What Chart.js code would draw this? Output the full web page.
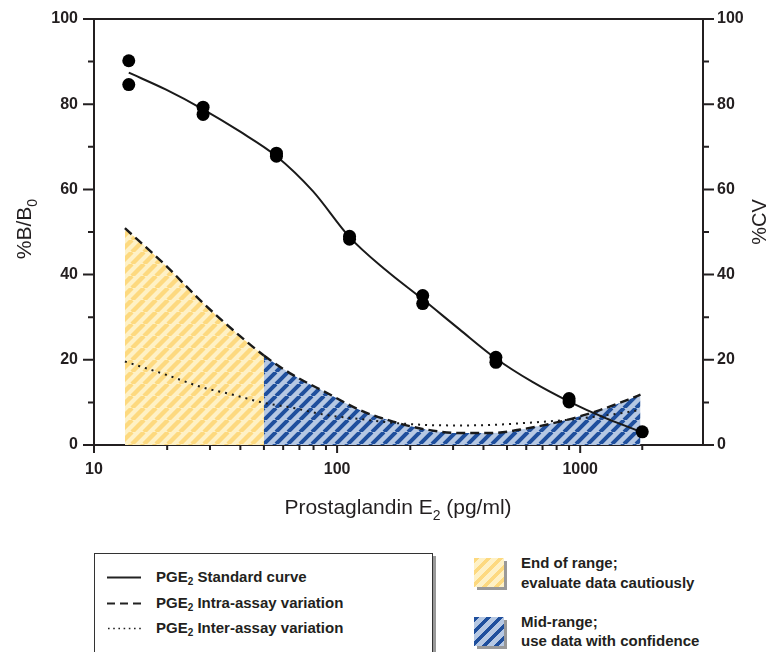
<!DOCTYPE html>
<html>
<head>
<meta charset="utf-8">
<script src="https://cdn.jsdelivr.net/npm/chart.js@4"></script>
<style>
  body { margin: 0; width: 775px; height: 652px; overflow: hidden; background: #fff; position: relative;
         font-family: "Liberation Sans", Arial, sans-serif; color: #231f20; }
  #chart { position: absolute; left: 0; top: 0; }
  .box { position: absolute; left: 94px; top: 553px; width: 337px; height: 130px;
         border: 1.5px solid #333; box-shadow: 3px 3px 0 #999; background: #fff; }
  .row { position: absolute; left: 0; height: 20px; font-weight: bold; font-size: 15px; line-height: 20px; white-space: nowrap; }
  .row svg { position: absolute; left: 12px; top: 9px; }
  .row span { position: absolute; left: 61px; top: 0; }
  sub { font-size: 10px; vertical-align: -3px; line-height: 0; }
  .sw { position: absolute; left: 474px; width: 30px; height: 29px; box-shadow: 3px 3px 0 #999; }
  .sw.end { top: 558px; background: repeating-linear-gradient(135deg, #fdd97f 0 4px, #fef1c6 4px 8.5px); }
  .sw.mid { top: 617px; background: repeating-linear-gradient(135deg, #1f4f9d 0 3.8px, #b6c8e3 3.8px 8.5px); }
  .txt { position: absolute; left: 521px; font-weight: bold; font-size: 15px; line-height: 20px; white-space: nowrap; }
</style>
</head>
<body>
<canvas id="chart" width="775" height="545"></canvas>

<div class="box">
  <div class="row" style="top:13px"><svg width="40" height="3"><line x1="0" y1="1.5" x2="34" y2="1.5" stroke="#222" stroke-width="2"/></svg><span>PGE<sub>2</sub> Standard curve</span></div>
  <div class="row" style="top:39px"><svg width="40" height="3"><line x1="0" y1="1.5" x2="34" y2="1.5" stroke="#222" stroke-width="2" stroke-dasharray="8 5"/></svg><span>PGE<sub>2</sub> Intra-assay variation</span></div>
  <div class="row" style="top:64px"><svg width="40" height="3"><line x1="1" y1="1.5" x2="34" y2="1.5" stroke="#222" stroke-width="1.6" stroke-dasharray="1.6 3.6"/></svg><span>PGE<sub>2</sub> Inter-assay variation</span></div>
</div>
<div class="sw end"></div>
<div class="txt" style="top:553px">End of range;</div>
<div class="txt" style="top:573px">evaluate data cautiously</div>
<div class="sw mid"></div>
<div class="txt" style="top:612px">Mid-range;</div>
<div class="txt" style="top:631px">use data with confidence</div>

<script>
// standards (pg/ml) and measured %B/B0, duplicates
const stdConc = [13.9, 13.9, 28.1, 28.1, 56.3, 56.3, 112.5, 112.5, 225, 225, 450, 450, 900, 900, 1800];
const stdBB0 = [90.2, 84.6, 79.3, 77.6, 68.5, 67.8, 49.0, 48.3, 35.1, 33.2, 20.6, 19.4, 10.9, 10.1, 3.1];

// fitted standard curve
const fitConc = [13.9, 19.8, 28.1, 39.8, 56.3, 79.5, 112.5, 159, 225, 318, 450, 636, 900, 1272, 1800];
const fitBB0 = [87.4, 83.4, 78.8, 73.6, 67.8, 59.6, 48.8, 41.0, 34.2, 27.2, 20.3, 14.8, 10.2, 6.3, 3.0];

// %CV curves
const cvConc = [13.4, 20, 27.3, 37.3, 50, 66, 91, 124, 170, 234, 320, 430, 604, 883, 1205, 1633, 1770];
const intraCV = [50.9, 41.8, 34, 27, 21, 16.4, 12.2, 8.2, 5.5, 3.6, 2.8, 2.8, 3.9, 5.9, 8.2, 11.0, 11.8];
const interCV = [19.6, 16.4, 13.7, 11.8, 9.9, 8.7, 7.0, 6.1, 5.2, 4.7, 4.6, 4.7, 5.2, 5.9, 6.8, 7.9, 8.3];

// end of range / mid-range split
const rangeSplit = 50;

// axis ticks
const xTickValues = [10, 20, 30, 40, 50, 60, 70, 80, 90, 100, 200, 300, 400, 500, 600, 700, 800, 900, 1000, 1800];
const xLabelValues = [10, 100, 1000];
const yTickValues = [0, 10, 20, 30, 40, 50, 60, 70, 80, 90, 100];

const FONT = '"Liberation Sans", Arial, sans-serif';
const INK = '#231f20';

function hatch(bg, stripe, size, w) {
  const c = document.createElement('canvas');
  c.width = size; c.height = size;
  const g = c.getContext('2d');
  g.fillStyle = bg;
  g.fillRect(0, 0, size, size);
  g.strokeStyle = stripe;
  g.lineWidth = w;
  g.beginPath();
  for (let k = -1; k <= 1; k++) {
    g.moveTo(k * size, size);
    g.lineTo(k * size + size, 0);
  }
  g.stroke();
  return g.createPattern(c, 'repeat');
}

const ctx = document.getElementById('chart').getContext('2d');
const yellowHatch = hatch('#fef1c6', '#fdd97f', 12, 4.4);
const blueHatch = hatch('#b6c8e3', '#1f4f9d', 12, 4.0);

const pts = (xs, ys) => xs.map((x, i) => ({ x, y: ys[i] }));

// draws text with a subscript part, centred on the origin
function subText(c, parts, size) {
  const big = size + 'px ' + FONT;
  const small = Math.round(size * 0.65) + 'px ' + FONT;
  let w = 0;
  parts.forEach(p => { c.font = p[1] ? small : big; w += c.measureText(p[0]).width; });
  let x = -w / 2;
  parts.forEach(p => {
    c.font = p[1] ? small : big;
    c.fillText(p[0], x, p[1] ? size * 0.28 : 0);
    x += c.measureText(p[0]).width;
  });
}

const frame = {
  id: 'frame',
  afterDraw(chart) {
    const { ctx: c, chartArea: a, scales } = chart;
    c.save();
    c.strokeStyle = INK;
    c.lineWidth = 2;
    c.beginPath();
    c.moveTo(a.left, a.top);
    c.lineTo(a.right, a.top);
    yTickValues.forEach(v => {
      const y = scales.y.getPixelForValue(v);
      const len = v % 20 === 0 ? 11 : 6;
      c.moveTo(a.left - len, y); c.lineTo(a.left, y);
      c.moveTo(a.right, y); c.lineTo(a.right + len, y);
    });
    xTickValues.forEach(v => {
      const x = scales.x.getPixelForValue(v);
      const len = xLabelValues.includes(v) ? 8 : 5;
      c.moveTo(x, a.bottom); c.lineTo(x, a.bottom + len);
    });
    c.stroke();

    c.fillStyle = INK;
    c.textBaseline = 'alphabetic';
    c.textAlign = 'left';
    c.save();
    c.translate(398, 514);
    subText(c, [['Prostaglandin E', 0], ['2', 1], [' (pg/ml)', 0]], 21);
    c.restore();
    c.save();
    c.translate(31, 229);
    c.rotate(-Math.PI / 2);
    subText(c, [['%B/B', 0], ['0', 1]], 21);
    c.restore();
    c.save();
    c.translate(766, 222);
    c.rotate(-Math.PI / 2);
    subText(c, [['%CV', 0]], 20);
    c.restore();
    c.restore();
  }
};

const tickFont = { family: FONT, size: 16, weight: 'bold' };

function fixWidth(w) {
  return s => { s.width = w; s.paddingTop = 0; s.paddingBottom = 0; };
}

new Chart(ctx, {
  type: 'line',
  data: {
    datasets: [
      {
        type: 'scatter',
        data: pts(stdConc, stdBB0),
        yAxisID: 'y',
        pointRadius: 6.5,
        pointBackgroundColor: '#000',
        pointBorderWidth: 0,
        order: 0
      },
      {
        data: pts(fitConc, fitBB0),
        yAxisID: 'y',
        borderColor: '#1a1a1a',
        borderWidth: 2,
        pointRadius: 0,
        cubicInterpolationMode: 'monotone',
        order: 1
      },
      {
        data: pts(cvConc, intraCV),
        yAxisID: 'y2',
        borderColor: '#1a1a1a',
        borderWidth: 2.4,
        borderDash: [9, 5],
        pointRadius: 0,
        cubicInterpolationMode: 'monotone',
        fill: 'origin',
        backgroundColor: blueHatch,
        segment: {
          backgroundColor: s => s.p0.parsed.x < rangeSplit ? yellowHatch : blueHatch
        },
        order: 3
      },
      {
        data: pts(cvConc, interCV),
        yAxisID: 'y2',
        borderColor: '#1a1a1a',
        borderWidth: 2,
        borderDash: [2, 5],
        pointRadius: 0,
        cubicInterpolationMode: 'monotone',
        order: 2
      }
    ]
  },
  options: {
    responsive: false,
    animation: false,
    layout: { padding: { top: 19, left: 0, right: 0, bottom: 0 } },
    plugins: { legend: { display: false }, tooltip: { enabled: false } },
    scales: {
      x: {
        type: 'logarithmic',
        min: 10,
        max: 3200,
        afterBuildTicks: s => { s.ticks = xTickValues.map(v => ({ value: v })); },
        afterFit: s => { s.height = 545 - 445; s.paddingLeft = 0; s.paddingRight = 0; },
        ticks: {
          autoSkip: false,
          maxRotation: 0,
          padding: 15,
          color: INK,
          font: tickFont,
          callback: v => xLabelValues.includes(v) ? String(v) : ''
        },
        grid: { drawOnChartArea: false, drawTicks: false },
        border: { color: INK, width: 2 }
      },
      y: {
        position: 'left',
        min: 0,
        max: 100,
        afterBuildTicks: s => { s.ticks = yTickValues.map(v => ({ value: v })); },
        afterFit: fixWidth(94),
        ticks: { padding: 16, color: INK, font: tickFont, callback: v => v % 20 === 0 ? String(v) : '' },
        grid: { drawOnChartArea: false, drawTicks: false },
        border: { color: INK, width: 2 }
      },
      y2: {
        position: 'right',
        min: 0,
        max: 100,
        afterBuildTicks: s => { s.ticks = yTickValues.map(v => ({ value: v })); },
        afterFit: fixWidth(775 - 703),
        ticks: { padding: 14, color: INK, font: tickFont, callback: v => v % 20 === 0 ? String(v) : '' },
        grid: { drawOnChartArea: false, drawTicks: false },
        border: { color: INK, width: 2 }
      }
    }
  },
  plugins: [frame]
});
</script>
</body>
</html>
